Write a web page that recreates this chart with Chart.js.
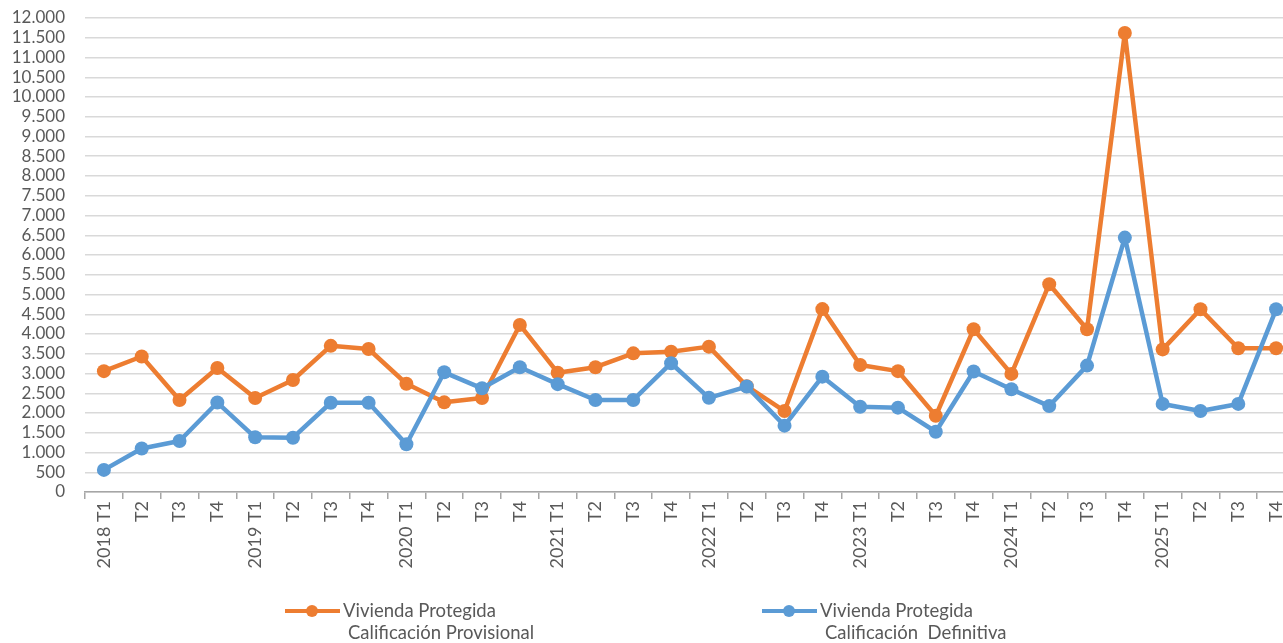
<!DOCTYPE html>
<html lang="es">
<head>
    <meta charset="UTF-8" />
    <title>Vivienda Protegida</title>
    <style>
        body { margin: 0; background: #fff; overflow: hidden; }
        #wrap { width: 1283px; height: 643px; overflow: hidden; }
    </style>
    <script src="https://cdn.jsdelivr.net/npm/chart.js"></script>
</head>
<body>
    <div id="wrap"><canvas id="grafico" width="1302" height="643"></canvas></div>

    <script>
        // trimestres 2018 T1 .. 2025 T4
        const trimestres = [
            '2018 T1', 'T2', 'T3', 'T4',
            '2019 T1', 'T2', 'T3', 'T4',
            '2020 T1', 'T2', 'T3', 'T4',
            '2021 T1', 'T2', 'T3', 'T4',
            '2022 T1', 'T2', 'T3', 'T4',
            '2023 T1', 'T2', 'T3', 'T4',
            '2024 T1', 'T2', 'T3', 'T4',
            '2025 T1', 'T2', 'T3', 'T4'
        ];

        const provisional = [
            3060, 3430, 2330, 3140,
            2380, 2835, 3700, 3620,
            2740, 2270, 2380, 4230,
            3020, 3160, 3510, 3550,
            3680, 2680, 2050, 4630,
            3215, 3060, 1930, 4120,
            2990, 5260, 4120, 11620,
            3610, 4625, 3640, 3640
        ];

        const definitiva = [
            560, 1100, 1290, 2265,
            1385, 1375, 2260, 2260,
            1210, 3030, 2625, 3160,
            2730, 2330, 2330, 3260,
            2385, 2670, 1680, 2920,
            2160, 2135, 1525, 3050,
            2600, 2175, 3200, 6440,
            2230, 2050, 2230, 4625
        ];

        const leyendas = [
            ['Vivienda Protegida', 'Calificación Provisional'],
            ['Vivienda Protegida', 'Calificación  Definitiva']
        ];

        const naranja = '#ED7D31';
        const azul = '#5B9BD5';
        const gris = '#595959';

        Chart.defaults.font.family = 'Lato, "Open Sans", sans-serif';
        Chart.defaults.color = gris;

        // leyenda abajo con dos lineas de texto
        const leyendaPlugin = {
            id: 'leyendaAbajo',
            afterDraw(chart) {
                const ctx = chart.ctx;
                const pos = [285, 762];
                chart.data.datasets.forEach((ds, i) => {
                    const x = pos[i];
                    const y = 611;
                    ctx.save();
                    ctx.strokeStyle = ds.borderColor;
                    ctx.lineWidth = 4;
                    ctx.beginPath();
                    ctx.moveTo(x, y);
                    ctx.lineTo(x + 55, y);
                    ctx.stroke();
                    ctx.fillStyle = ds.borderColor;
                    ctx.beginPath();
                    ctx.arc(x + 27, y, 6, 0, Math.PI * 2);
                    ctx.fill();
                    ctx.fillStyle = gris;
                    ctx.font = '18.5px Lato';
                    ctx.textBaseline = 'middle';
                    ctx.fillText(leyendas[i][0], x + 58, y);
                    ctx.fillText(leyendas[i][1], x + 63, y + 22);
                    ctx.restore();
                });
            }
        };

        new Chart(document.getElementById('grafico'), {
            type: 'line',
            data: {
                labels: trimestres,
                datasets: [{
                    label: leyendas[0].join(' '),
                    data: provisional,
                    borderColor: naranja,
                    backgroundColor: naranja,
                    borderWidth: 4.5,
                    borderJoinStyle: 'round',
                    pointRadius: 7,
                    pointBorderWidth: 0,
                    tension: 0,
                    order: 2
                }, {
                    label: leyendas[1].join(' '),
                    data: definitiva,
                    borderColor: azul,
                    backgroundColor: azul,
                    borderWidth: 4.5,
                    borderJoinStyle: 'round',
                    pointRadius: 7,
                    pointBorderWidth: 0,
                    tension: 0,
                    order: 1
                }]
            },
            options: {
                responsive: false,
                animation: false,
                layout: { padding: { top: 18, right: 0, bottom: 0, left: 0 } },
                plugins: {
                    legend: { display: false },
                    tooltip: { enabled: false }
                },
                scales: {
                    x: {
                        offset: true,
                        grid: {
                            offset: true,
                            drawOnChartArea: false,
                            tickLength: 7,
                            color: '#a6a6a6',
                            lineWidth: 1.5
                        },
                        border: { color: '#a6a6a6', width: 1.5 },
                        ticks: {
                            minRotation: 90,
                            maxRotation: 90,
                            autoSkip: false,
                            padding: 2,
                            font: { size: 18 }
                        },
                        afterFit(scale) {
                            scale.height = 151;
                            scale.paddingLeft = 0;
                            scale.paddingRight = 0;
                        }
                    },
                    y: {
                        min: 0,
                        max: 12000,
                        grid: {
                            color: '#d9d9d9',
                            lineWidth: 1.5,
                            drawTicks: false
                        },
                        border: { display: false },
                        ticks: {
                            stepSize: 500,
                            autoSkip: false,
                            padding: 20,
                            font: { size: 17 },
                            callback: v => v.toLocaleString('de-DE')
                        },
                        afterFit(scale) {
                            scale.width = 85;
                            scale.paddingTop = 0;
                            scale.paddingBottom = 0;
                        }
                    }
                }
            },
            plugins: [leyendaPlugin]
        });
    </script>
</body>
</html>
